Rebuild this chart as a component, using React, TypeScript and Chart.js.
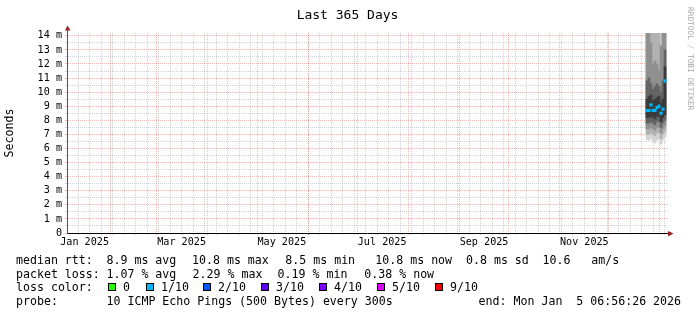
import React, { useEffect, useRef } from 'react';
import { Chart, registerables } from 'chart.js';

Chart.register(...registerables);

// ---- time axis (x values = days since 2025-01-01 00:00) ----
const startDay = 4.2892; // Sun Jan 5 2025 06:56:26
const endDay = 369.2892; // Mon Jan 5 2026 06:56:26
const monthStartDays = [31, 59, 90, 120, 151, 181, 212, 243, 273, 304, 334, 365];
const weekStartDays = [
  11, 18, 25, 32, 39, 46, 53, 60, 67, 74, 81, 88, 95, 102, 109, 116, 123, 130, 137, 144,
  151, 158, 165, 172, 179, 186, 193, 200, 207, 214, 221, 228, 235, 242, 249, 256, 263, 270,
  277, 284, 291, 298, 305, 312, 319, 326, 333, 340, 347, 354, 361, 368,
];
const monthLabelDays = [15, 74, 135, 196, 258, 319];
const monthLabels = ['Jan 2025', 'Mar 2025', 'May 2025', 'Jul 2025', 'Sep 2025', 'Nov 2025'];

// ---- value axis (milliseconds) ----
const yMax = 14.2;
const yMajorValues = [0, 1, 2, 3, 4, 5, 6, 7, 8, 9, 10, 11, 12, 13, 14];
const yLabels = ['0', '1 m', '2 m', '3 m', '4 m', '5 m', '6 m', '7 m', '8 m', '9 m', '10 m', '11 m', '12 m', '13 m', '14 m'];
const yMinorValues = [0.5, 1.5, 2.5, 3.5, 4.5, 5.5, 6.5, 7.5, 8.5, 9.5, 10.5, 11.5, 12.5, 13.5];

// ---- data: consolidated columns at the end of the year ----
const colDays = [357.12, 358.34, 359.55, 360.77, 361.99, 363.2, 364.42, 365.64, 366.85, 368.07];
const medianRtt = [8.7, 8.7, 9.1, 8.7, 8.7, 8.9, 9.0, 8.5, 8.8, 10.8];
// smoke bands (outer A .. inner E), low / high
const smokeALow = [6.6, 6.6, 6.7, 6.5, 6.4, 6.6, 6.7, 6.3, 6.6, 6.8];
const smokeAHigh = [15, 15, 15, 15, 15, 15, 15, 15, 15, 15];
const smokeBLow = [7.0, 7.0, 7.1, 7.0, 6.9, 7.1, 7.1, 6.7, 7.0, 7.2];
const smokeBHigh = [15, 15, 15, 15, 15, 15, 15, 13.3, 15, 15];
const smokeCLow = [7.4, 7.4, 7.5, 7.4, 7.3, 7.5, 7.5, 7.1, 7.4, 7.6];
const smokeCHigh = [15, 15, 13.5, 12.0, 12.2, 12.0, 11.5, 13.3, 15, 15];
const smokeDLow = [7.8, 7.8, 7.9, 7.8, 7.7, 7.9, 7.9, 7.5, 7.8, 8.0];
const smokeDHigh = [10.8, 11.0, 10.6, 10.2, 10.4, 10.6, 10.4, 10.0, 10.8, 13.0];
const smokeELow = [8.2, 8.2, 8.3, 8.2, 8.1, 8.3, 8.3, 7.9, 8.2, 8.4];
const smokeEHigh = [9.5, 9.7, 9.8, 9.4, 9.5, 9.6, 9.7, 9.2, 9.5, 11.8];

// ---- legend texts ----
const titleText = 'Last 365 Days';
const rttStats = ['8.9 ms avg', '10.8 ms max', '8.5 ms min', '10.8 ms now', '0.8 ms sd', '10.6   am/s'];
const lossStats = ['1.07 % avg', '2.29 % max', '0.19 % min', '0.38 % now'];
const lossColorLabels = ['0', '1/10', '2/10', '3/10', '4/10', '5/10', '9/10'];
const lossColors = ['#26ff00', '#00b8ff', '#0059ff', '#5e00ff', '#7e00ff', '#dd00ff', '#ff0000'];
const probeText = '10 ICMP Echo Pings (500 Bytes) every 300s';
const endText = 'end: Mon Jan  5 06:56:26 2026';
const watermark = 'RRDTOOL / TOBI OETIKER';

const MONO = '"DejaVu Sans Mono", monospace';
const MAJOR = 'rgba(225,0,0,0.28)';
const MINOR = 'rgba(150,150,150,0.42)';
const ARROW = '#992222';

const xTicks = [
  ...weekStartDays.map((v) => ({ value: v, kind: 'minor' })),
  ...monthStartDays.map((v) => ({ value: v, kind: 'major' })),
  ...monthLabelDays.map((v, i) => ({ value: v, kind: 'label', text: monthLabels[i] })),
].filter((t) => t.value >= startDay && t.value <= endDay);

const yTicks = [
  ...yMinorValues.map((v) => ({ value: v, kind: 'minor' })),
  ...yMajorValues.map((v, i) => ({ value: v, kind: 'major', text: yLabels[i] })),
];

const gridColor = (ctx: any) => {
  const k = ctx.tick && ctx.tick.kind;
  if (k === 'major') return MAJOR;
  if (k === 'minor') return MINOR;
  return 'rgba(0,0,0,0)';
};

const band = (low: number[], high: number[], color: string, order: number) => ({
  type: 'bar' as const,
  data: colDays.map((x, i) => ({ x, y: [low[i], high[i]] })),
  backgroundColor: color,
  borderWidth: 0,
  barThickness: 2,
  grouped: false,
  order,
});

const decorPlugin = {
  id: 'rrdDecor',
  afterDraw(chart: any) {
    const ctx = chart.ctx as CanvasRenderingContext2D;
    const a = chart.chartArea;
    ctx.save();
    // axis extensions and arrows
    ctx.strokeStyle = '#000';
    ctx.lineWidth = 1;
    ctx.beginPath();
    ctx.moveTo(a.right, Math.round(a.bottom) + 0.5);
    ctx.lineTo(a.right + 2, Math.round(a.bottom) + 0.5);
    ctx.stroke();
    ctx.strokeStyle = '#555';
    ctx.beginPath();
    ctx.moveTo(Math.round(a.left) + 0.5, a.top);
    ctx.lineTo(Math.round(a.left) + 0.5, a.top - 3);
    ctx.stroke();
    ctx.fillStyle = ARROW;
    ctx.beginPath();
    ctx.moveTo(a.right + 1, a.bottom - 2.5 + 0.5);
    ctx.lineTo(a.right + 6.5, a.bottom + 0.5);
    ctx.lineTo(a.right + 1, a.bottom + 3 + 0.5);
    ctx.closePath();
    ctx.fill();
    ctx.beginPath();
    ctx.moveTo(a.left - 2.5 + 0.5, a.top - 2.5);
    ctx.lineTo(a.left + 0.5, a.top - 7.5);
    ctx.lineTo(a.left + 3 + 0.5, a.top - 2.5);
    ctx.closePath();
    ctx.fill();

    // title
    ctx.fillStyle = '#000';
    ctx.font = `13px ${MONO}`;
    ctx.textAlign = 'center';
    ctx.textBaseline = 'alphabetic';
    ctx.fillText(titleText, chart.width / 2 - 1, 18.5);

    // legend
    ctx.font = `11.6px ${MONO}`;
    ctx.textAlign = 'left';
    const r1 = 264, r2 = 277.5, r3 = 291, r4 = 305;
    ctx.fillText('median rtt:', 16, r1);
    const rttX = [106.5, 192, 285.3, 375.3, 466, 542.5];
    rttStats.forEach((t, i) => ctx.fillText(t, rttX[i], r1));
    ctx.fillText('packet loss:', 16, r2);
    const lossX = [106.5, 192.6, 277.6, 364.3];
    lossStats.forEach((t, i) => ctx.fillText(t, lossX[i], r2));
    ctx.fillText('loss color:', 16, r3);
    const boxX = [108, 146, 203, 261, 319, 377, 435];
    lossColorLabels.forEach((t, i) => {
      ctx.fillStyle = lossColors[i];
      ctx.fillRect(boxX[i] + 0.5, 283.5, 7, 7);
      ctx.strokeStyle = '#000';
      ctx.strokeRect(boxX[i] + 0.5, 283.5, 7, 7);
      ctx.fillStyle = '#000';
      ctx.fillText(t, boxX[i] + 15, r3);
    });
    ctx.fillText('probe:', 16, r4);
    ctx.fillText(probeText, 106.5, r4);
    ctx.fillText(endText, 478.6, r4);

    // watermark
    ctx.fillStyle = '#a8a8a8';
    ctx.font = `7.8px ${MONO}`;
    ctx.translate(690.5, 7);
    ctx.rotate(Math.PI / 2);
    ctx.textBaseline = 'middle';
    ctx.fillText(watermark, 0, 0);
    ctx.restore();
  },
};

export default function App() {
  const ref = useRef<HTMLCanvasElement>(null);
  useEffect(() => {
    document.body.style.margin = '0';
    const chart = new Chart(ref.current as HTMLCanvasElement, {
      type: 'bar',
      data: {
        datasets: [
          {
            type: 'line',
            data: colDays.map((x, i) => ({ x, y: medianRtt[i] })),
            showLine: false,
            pointStyle: 'rect',
            pointRadius: 2.2,
            pointBackgroundColor: '#00b8ff',
            pointBorderWidth: 0,
            order: 0,
          } as any,
          band(smokeELow, smokeEHigh, '#3a3a3a', 1),
          band(smokeDLow, smokeDHigh, '#646464', 2),
          band(smokeCLow, smokeCHigh, '#909090', 3),
          band(smokeBLow, smokeBHigh, '#b2b2b2', 4),
          band(smokeALow, smokeAHigh, '#d4d4d4', 5),
        ],
      },
      options: {
        animation: false,
        responsive: false,
        devicePixelRatio: 1,
        layout: { padding: { top: 33, right: 30, bottom: 0, left: 0 } },
        plugins: { legend: { display: false }, tooltip: { enabled: false }, title: { display: false } },
        scales: {
          x: {
            type: 'linear',
            min: startDay,
            max: endDay,
            offset: false,
            z: 1,
            afterBuildTicks: (s: any) => {
              s.ticks = xTicks.map((t) => ({ ...t }));
            },
            afterFit: (s: any) => {
              s.height = 82;
            },
            grid: { offset: false, color: gridColor, tickColor: gridColor, lineWidth: 1, tickLength: 2, drawTicks: true },
            border: { display: true, color: '#000', width: 1, dash: [1, 1] },
            ticks: {
              autoSkip: false,
              maxRotation: 0,
              minRotation: 0,
              padding: 1,
              color: '#000',
              font: { family: MONO, size: 10.15 },
              callback: (_v: any, i: number, ticks: any[]) => ticks[i].text || '',
            },
          },
          y: {
            type: 'linear',
            min: 0,
            max: yMax,
            z: 1,
            afterBuildTicks: (s: any) => {
              s.ticks = yTicks.map((t) => ({ ...t }));
            },
            afterFit: (s: any) => {
              s.width = 67;
            },
            title: {
              display: true,
              text: 'Seconds',
              color: '#000',
              font: { family: MONO, size: 11.6 },
              padding: { top: 3, bottom: 0 },
            },
            grid: { color: gridColor, tickColor: gridColor, lineWidth: 1, tickLength: 2, drawTicks: true },
            border: { display: true, color: '#555', width: 1, dash: [1, 1] },
            ticks: {
              autoSkip: false,
              padding: 3,
              color: '#000',
              font: { family: MONO, size: 10.15 },
              callback: (_v: any, i: number, ticks: any[]) => ticks[i].text || '',
            },
          },
        },
      } as any,
      plugins: [decorPlugin],
    });
    return () => chart.destroy();
  }, []);
  return (
    <div style={{ position: 'absolute', left: 0, top: 0, width: 697, height: 315, background: '#fff' }}>
      <canvas ref={ref} width={697} height={315} style={{ display: 'block', width: 697, height: 315 }} />
    </div>
  );
}
